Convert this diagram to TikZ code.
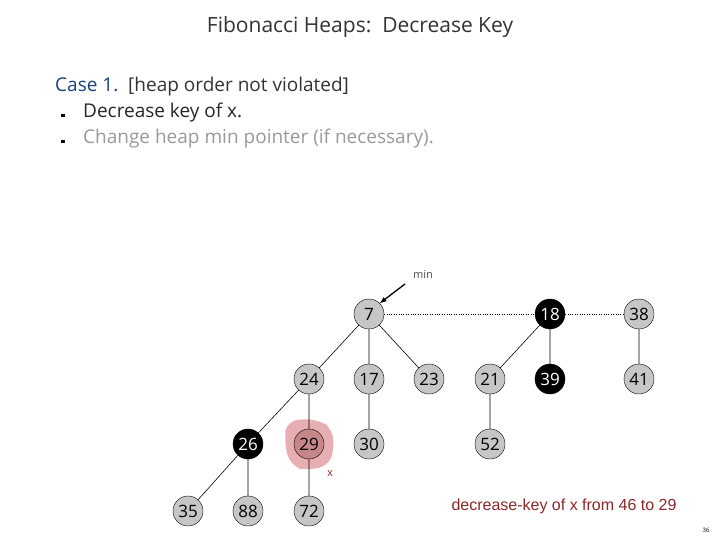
\documentclass[tikz,border=0pt]{standalone}
\usepackage{fontspec}
\setmainfont{Open Sans}
\newfontfamily\arialf{Liberation Sans}
\definecolor{blob}{RGB}{232,175,178}
\definecolor{xnode}{RGB}{200,135,135}
\definecolor{dred}{RGB}{140,40,40}
\begin{document}
\begin{tikzpicture}[x=1pt,y=-1pt,
  hn/.style={circle,draw=black,fill=gray!45,minimum size=30pt,inner sep=0pt,font=\fontsize{17}{17}\selectfont},
  mk/.style={hn,fill=black,text=white},
  ed/.style={draw=black,line width=0.6pt}]
\useasboundingbox (0,0) rectangle (720,540);
\node[font=\fontsize{21}{24}\selectfont,text=black!80] (title) at (360,27) {Fibonacci Heaps:\ \ Decrease Key};
\node[anchor=west,inner sep=0pt,font=\fontsize{19}{22}\selectfont,text=black!80] (case) at (55,87) {\textcolor[rgb]{0.1,0.25,0.5}{Case 1.}\ \ [heap order not violated]};
\node[anchor=west,inner sep=0pt,font=\fontsize{19}{22}\selectfont,text=black!85] (l1) at (83,113) {Decrease key of x.};
\node[anchor=west,inner sep=0pt,font=\fontsize{19}{22}\selectfont,text=black!40] (l2) at (83,139) {Change heap min pointer (if necessary).};
\fill (61,114) rectangle +(3.5,3.5);
\fill (61,140) rectangle +(3.5,3.5);
\fill[blob,rounded corners=12pt] (287,420) -- (318,419) -- (334,430) -- (332,464) -- (308,471) -- (290,466) -- (284,440) -- cycle;
\node[hn] (n7) at (369,314) {7};
\node[mk] (n18) at (550,314) {18};
\node[hn] (n38) at (639,314) {38};
\node[hn] (n24) at (309,379) {24};
\node[hn] (n17) at (369,379) {17};
\node[hn] (n23) at (429,379) {23};
\node[hn] (n21) at (490,379) {21};
\node[mk] (n39) at (550,379) {39};
\node[hn] (n41) at (639,379) {41};
\node[mk] (n26) at (248,444) {26};
\node[hn,fill=xnode] (n29) at (309,444) {29};
\node[hn] (n30) at (369,444) {30};
\node[hn] (n52) at (490,444) {52};
\node[hn] (n35) at (188,511) {35};
\node[hn] (n88) at (248,511) {88};
\node[hn] (n72) at (309,511) {72};
\draw[dotted] (n7) -- (n18) -- (n38);
\draw[ed] (n7)--(n24) (n7)--(n17) (n7)--(n23) (n24)--(n26) (n24)--(n29)
  (n26)--(n35) (n26)--(n88) (n29)--(n72) (n17)--(n30) (n18)--(n21) (n18)--(n39)
  (n21)--(n52) (n38)--(n41);
\node[font=\fontsize{11}{12}\selectfont,text=black!70] (minl) at (423,274) {min};
\coordinate (ms) at (405,284);
\draw[-latex,line width=1.3pt] (ms) -- (n7.north east);
\node[font=\arialf\fontsize{11}{12}\selectfont,text=dred] (xl) at (330,474) {x};
\node[font=\arialf\fontsize{16}{18}\selectfont,text=dred] (dk) at (564,506) {decrease-key of x from 46 to 29};
\node[font=\fontsize{6}{7}\selectfont] (pg) at (706,530) {36};
\end{tikzpicture}
\end{document}
